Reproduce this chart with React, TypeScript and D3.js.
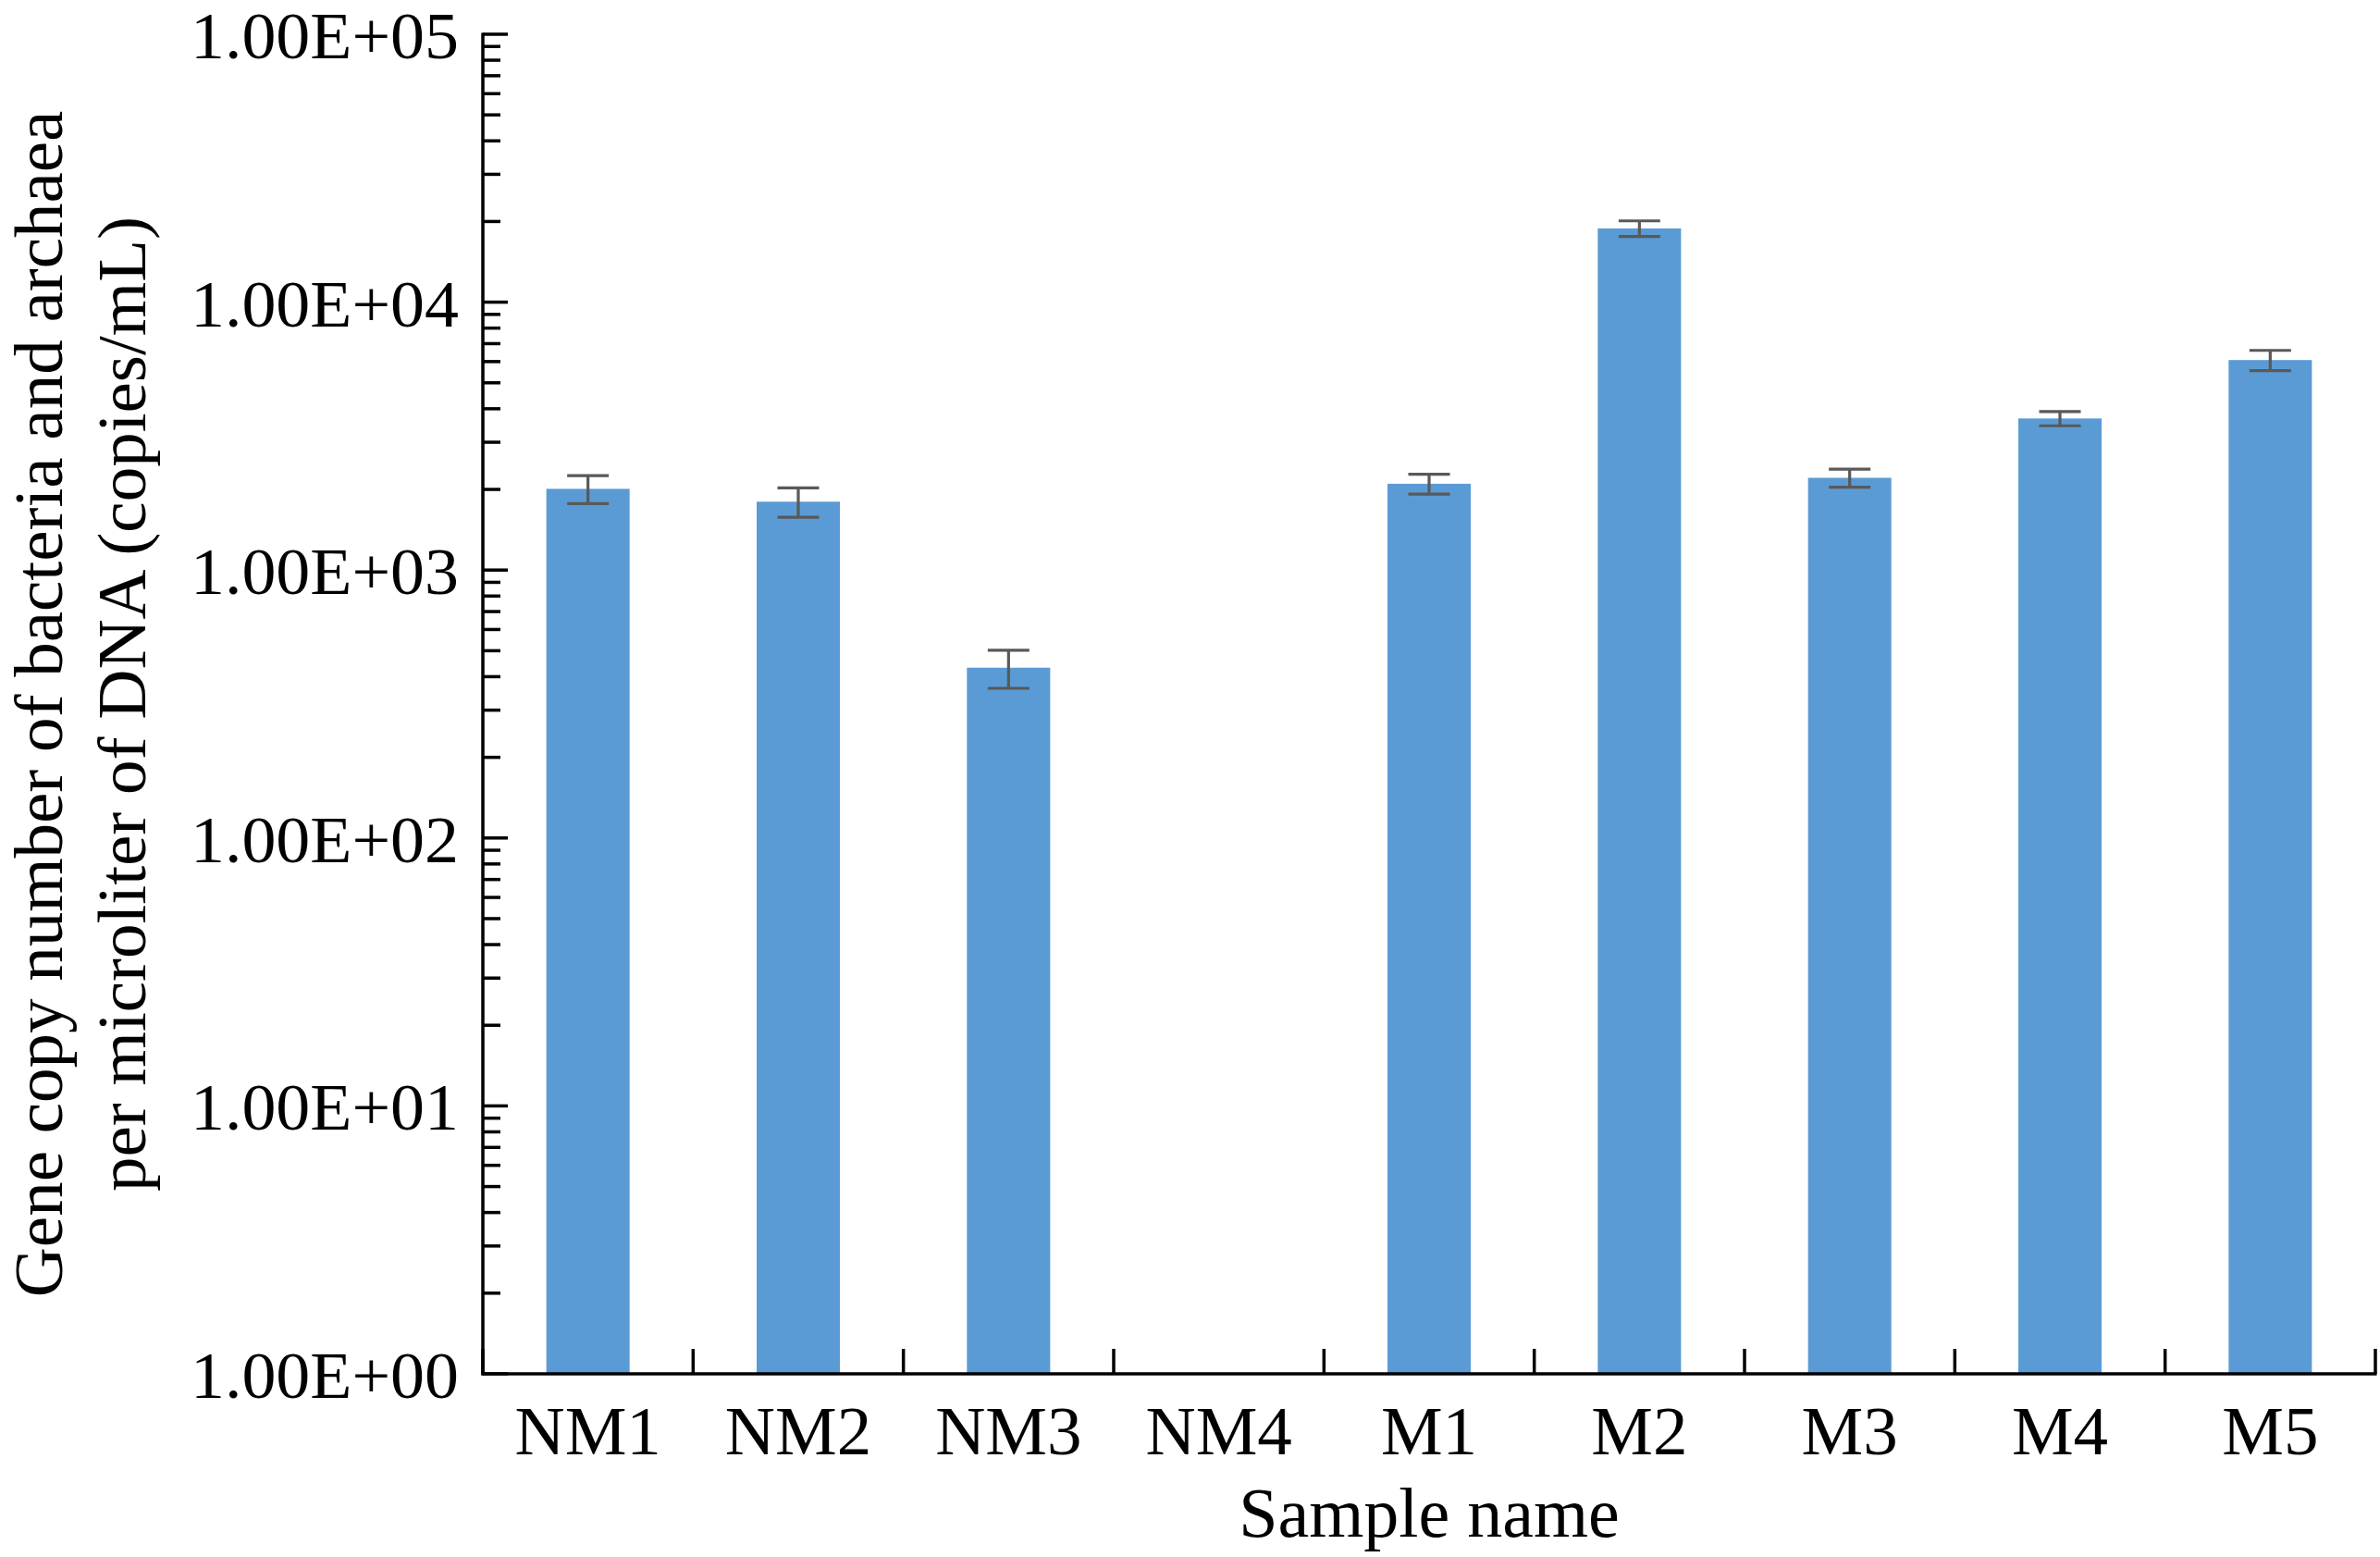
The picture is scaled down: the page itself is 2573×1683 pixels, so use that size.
import * as d3 from "d3";
import React, { RefObject, useEffect, useRef } from "react";

const categories = ["NM1", "NM2", "NM3", "NM4", "M1", "M2", "M3", "M4", "M5"];
const values: (number | null)[] = [2010, 1800, 432, null, 2100, 18850, 2210, 3680, 6080];
const errors: (number | null)[] = [240, 225, 70, null, 180, 1260, 170, 225, 525];
const yTickValues = [1, 10, 100, 1000, 10000, 100000];
const yTickLabels = ["1.00E+00", "1.00E+01", "1.00E+02", "1.00E+03", "1.00E+04", "1.00E+05"];
const xTitle = "Sample name";
const yTitle = ["Gene copy number of bacteria and archaea", "per microliter of DNA (copies/mL)"];

const width = 2573;
const height = 1683;
const FONT = "'Liberation Serif', 'Times New Roman', serif";

const App = () => {
  const d3Ref: RefObject<HTMLDivElement> = useRef(null);

  const drawChart = () => {
    const root = d3.select(d3Ref.current);
    root.selectAll("*").remove();
    const svg = root
      .append("svg")
      .attr("width", width)
      .attr("height", height)
      .style("position", "absolute")
      .style("left", 0)
      .style("top", 0)
      .style("background", "#fff");

    const left = 522;
    const right = 2568;
    const top = 37;
    const bottom = 1485;

    const x = d3
      .scaleBand()
      .domain(categories)
      .range([left, right])
      .paddingInner(0.604)
      .paddingOuter(0.302);
    const step = x.step();

    const y = d3.scaleLog().domain([1, 100000]).range([bottom, top]);

    // bars (NM4 has no value)
    const bars = categories
      .map((c, i) => ({ c, v: values[i], e: errors[i] }))
      .filter((d) => d.v !== null) as { c: string; v: number; e: number }[];

    svg
      .append("g")
      .selectAll("rect")
      .data(bars)
      .enter()
      .append("rect")
      .attr("x", (d) => x(d.c) as number)
      .attr("width", x.bandwidth())
      .attr("y", (d) => y(d.v))
      .attr("height", (d) => bottom - y(d.v))
      .attr("fill", "#5B9BD5");

    // error bars
    const eb = svg.append("g").attr("stroke", "#595959").attr("stroke-width", 3.2);
    const cap = 22.5;
    bars.forEach((d) => {
      const cx = (x(d.c) as number) + x.bandwidth() / 2;
      const y1 = y(d.v + d.e);
      const y2 = y(d.v - d.e);
      eb.append("line").attr("x1", cx).attr("x2", cx).attr("y1", y1).attr("y2", y2);
      eb.append("line").attr("x1", cx - cap).attr("x2", cx + cap).attr("y1", y1).attr("y2", y1);
      eb.append("line").attr("x1", cx - cap).attr("x2", cx + cap).attr("y1", y2).attr("y2", y2);
    });

    // axes
    const ax = svg.append("g").attr("stroke", "#000").attr("stroke-width", 3.5);
    ax.append("line").attr("x1", left).attr("x2", left).attr("y1", top - 1.5).attr("y2", bottom + 1.5);
    ax.append("line").attr("x1", left - 1.5).attr("x2", right + 1.5).attr("y1", bottom).attr("y2", bottom);

    // y ticks (major + minor, pointing inward)
    y.ticks().forEach((t) => {
      const major = yTickValues.includes(t);
      ax.append("line")
        .attr("x1", left)
        .attr("x2", left + (major ? 27 : 19))
        .attr("y1", y(t))
        .attr("y2", y(t));
    });

    // x ticks at category boundaries
    d3.range(categories.length + 1).forEach((i) => {
      const tx = left + i * step;
      ax.append("line").attr("x1", tx).attr("x2", tx).attr("y1", bottom).attr("y2", bottom - 27);
    });

    // y tick labels
    svg
      .append("g")
      .selectAll("text")
      .data(yTickValues)
      .enter()
      .append("text")
      .attr("x", 496)
      .attr("y", (d) => y(d))
      .attr("dy", "0.36em")
      .attr("text-anchor", "end")
      .attr("font-family", FONT)
      .attr("font-size", 72)
      .attr("textLength", 290)
      .attr("lengthAdjust", "spacingAndGlyphs")
      .text((d, i) => yTickLabels[i]);

    // x tick labels
    svg
      .append("g")
      .selectAll("text")
      .data(categories)
      .enter()
      .append("text")
      .attr("x", (d) => (x(d) as number) + x.bandwidth() / 2)
      .attr("y", 1572)
      .attr("text-anchor", "middle")
      .attr("font-family", FONT)
      .attr("font-size", 75)
      .text((d) => d);

    // x title
    svg
      .append("text")
      .attr("x", (left + right) / 2)
      .attr("y", 1661)
      .attr("text-anchor", "middle")
      .attr("font-family", FONT)
      .attr("font-size", 76)
      .text(xTitle);

    // y title
    const cy = (top + bottom) / 2;
    [67, 157].forEach((bx, i) => {
      svg
        .append("text")
        .attr("transform", `translate(${bx}, ${cy}) rotate(-90)`)
        .attr("text-anchor", "middle")
        .attr("font-family", FONT)
        .attr("font-size", 75)
        .text(yTitle[i]);
    });
  };

  useEffect(() => {
    drawChart();
  }, [d3Ref]);

  return <div ref={d3Ref} />;
};

export default App;
